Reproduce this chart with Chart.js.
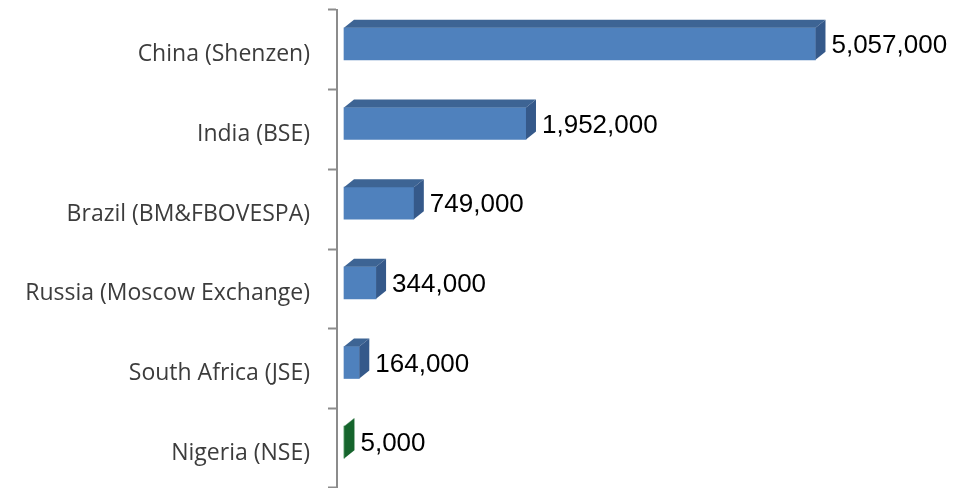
<!DOCTYPE html>
<html>
<head>
<meta charset="utf-8">
<script src="https://cdn.jsdelivr.net/npm/chart.js@4/dist/chart.umd.min.js"></script>
<style>
  html, body { margin: 0; padding: 0; background: #fff; }
  #wrap { width: 964px; height: 488px; }
</style>
</head>
<body>
<div id="wrap"><canvas id="exchange-chart"></canvas></div>
<script>
const exchanges = [
  'China (Shenzen)',
  'India (BSE)',
  'Brazil (BM&FBOVESPA)',
  'Russia (Moscow Exchange)',
  'South Africa (JSE)',
  'Nigeria (NSE)',
];
const tradeCounts = [5057000, 1952000, 749000, 344000, 164000, 5000];

const frontColors = ['#4f81bd', '#4f81bd', '#4f81bd', '#4f81bd', '#4f81bd', '#1f7d3a'];
const topColors = ['#3d6494', '#3d6494', '#3d6494', '#3d6494', '#3d6494', '#1a6b31'];
const sideColors = ['#35598a', '#35598a', '#35598a', '#35598a', '#35598a', '#16652d'];

const DEPTH_X = 10;
const DEPTH_Y = 8;
const SHIFT_Y = -6; // front faces sit a bit above the category centre

// draws the top + side faces and the value labels
const bars3d = {
  id: 'bars3d',
  beforeDatasetsDraw(chart) {
    chart.ctx.save();
    chart.ctx.translate(0, SHIFT_Y);
  },
  afterDatasetsDraw(chart) {
    const ctx = chart.ctx;
    const meta = chart.getDatasetMeta(0);
    meta.data.forEach((bar, i) => {
      const p = bar.getProps(['x', 'y', 'base', 'height'], true);
      const top = p.y - p.height / 2;
      const bottom = p.y + p.height / 2;

      ctx.fillStyle = topColors[i];
      ctx.beginPath();
      ctx.moveTo(p.base, top);
      ctx.lineTo(p.base + DEPTH_X, top - DEPTH_Y);
      ctx.lineTo(p.x + DEPTH_X, top - DEPTH_Y);
      ctx.lineTo(p.x, top);
      ctx.closePath();
      ctx.fill();

      ctx.fillStyle = sideColors[i];
      ctx.beginPath();
      ctx.moveTo(p.x, top);
      ctx.lineTo(p.x + DEPTH_X, top - DEPTH_Y);
      ctx.lineTo(p.x + DEPTH_X, bottom - DEPTH_Y);
      ctx.lineTo(p.x, bottom);
      ctx.closePath();
      ctx.fill();

      ctx.fillStyle = '#000';
      ctx.font = '26px "Liberation Sans", Arial, sans-serif';
      ctx.textAlign = 'left';
      ctx.textBaseline = 'middle';
      ctx.fillText(tradeCounts[i].toLocaleString('en-US'), p.x + DEPTH_X + 6, p.y + 2);
    });
    ctx.restore();
  },
};

new Chart(document.getElementById('exchange-chart'), {
  type: 'bar',
  data: {
    labels: exchanges,
    datasets: [
      {
        data: tradeCounts,
        backgroundColor: frontColors,
        borderWidth: 0,
        barThickness: 32,
      },
    ],
  },
  options: {
    indexAxis: 'y',
    responsive: true,
    maintainAspectRatio: false,
    animation: false,
    layout: { padding: { top: 10, right: 0, bottom: 0, left: 0 } },
    plugins: {
      legend: { display: false },
      tooltip: { enabled: false },
    },
    scales: {
      x: {
        display: false,
        min: -75000,
        max: 6650000,
      },
      y: {
        afterFit(scale) {
          scale.width = 337;
          scale.paddingTop = 0;
          scale.paddingBottom = 0;
        },
        border: { display: true, color: '#8c8c8c', width: 2 },
        grid: {
          offset: true,
          drawOnChartArea: false,
          drawTicks: true,
          tickLength: 9,
          tickColor: '#8c8c8c',
          tickWidth: 2,
        },
        ticks: {
          color: '#3c3c3c',
          padding: 18,
          labelOffset: 5,
          font: { family: '"Open Sans", sans-serif', size: 23 },
        },
      },
    },
  },
  plugins: [bars3d],
});
</script>
</body>
</html>
